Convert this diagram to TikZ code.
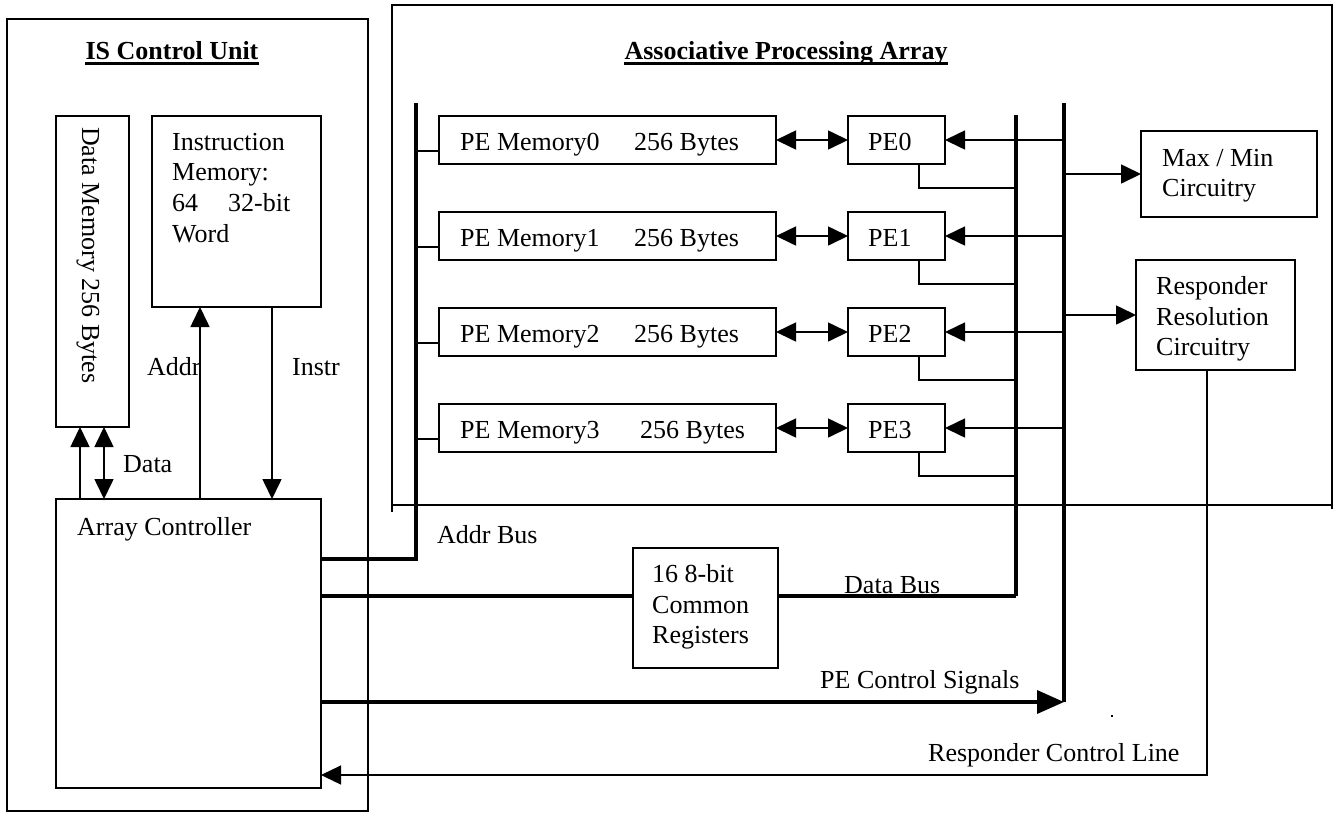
\documentclass[tikz,border=0pt]{standalone}
\usepackage{fontspec}
\setmainfont{Liberation Serif}
\usetikzlibrary{arrows.meta}
\begin{document}
\begin{tikzpicture}[x=1pt,y=-1pt,
  box/.style={draw,line width=1.3pt,inner sep=0pt,outer sep=0pt,anchor=north west},
  outerbox/.style={box,line width=2pt},
  lbl/.style={inner sep=0pt,anchor=base west,font=\fontsize{26}{30}\selectfont},
  ttl/.style={inner sep=0pt,anchor=base,font=\fontsize{26}{30}\selectfont\bfseries},
  thinline/.style={line width=1.4pt},
  bus/.style={line width=3.6pt},
  arr/.style={line width=1.6pt,-{Triangle[length=20pt,width=19pt]}},
  darr/.style={line width=1.6pt,{Triangle[length=20pt,width=19pt]}-{Triangle[length=20pt,width=19pt]}},
  bigarr/.style={line width=3.6pt,-{Triangle[length=27pt,width=23pt]}}
]
\useasboundingbox (0,0) rectangle (1337,812);
\fill[white] (0,0) rectangle (1337,812);

% outer frames
\node[outerbox,minimum width=361pt,minimum height=792pt] (isu) at (7,19) {};
\node[outerbox,minimum width=940pt,minimum height=500pt] (apa) at (392,5) {};
\draw[line width=1.3pt] (apa.south west) -- ++(0,7);
\draw[line width=1.3pt] (apa.south east) -- ++(0,4);

% titles
\node[ttl] (istitle) at (172,59) {IS Control Unit};
\draw[line width=2.6pt] ([yshift=-4.5pt]istitle.base west) -- ([yshift=-4.5pt]istitle.base east);
\node[ttl] (apatitle) at (786,59) {Associative Processing Array};
\draw[line width=2.6pt] ([yshift=-4.5pt]apatitle.base west) -- ([yshift=-4.5pt]apatitle.base east);

% data memory
\node[box,minimum width=73pt,minimum height=311pt] (dm) at (56,116) {};
\node[lbl,rotate=-90] (dmt) at (82,127) {Data Memory 256 Bytes};

% instruction memory
\node[box,minimum width=169pt,minimum height=191pt] (im) at (152,116) {};
\node[lbl] (im1) at (172,150) {Instruction};
\node[lbl] (im2) at (172,180) {Memory:};
\node[lbl] (im3) at (172,211) {64};
\node[lbl] (im3b) at (228,211) {32-bit};
\node[lbl] (im4) at (172,242) {Word};

% array controller
\node[box,minimum width=265pt,minimum height=289pt] (ac) at (56,499) {};
\node[lbl] (act) at (77,535) {Array Controller};

% data / addr / instr connections
\draw[arr] ([xshift=24pt]ac.north west) -- ([xshift=24pt]dm.south west);
\draw[darr] ([xshift=48pt]ac.north west) -- ([xshift=48pt]dm.south west);
\node[lbl] (datal) at (123,472) {Data};
\draw[arr] ([xshift=144pt]ac.north west) -- ([xshift=48pt]im.south west);
\draw[arr] ([xshift=120pt]im.south west) -- ([xshift=216pt]ac.north west);
\node[lbl] (addrl) at (147,375) {Addr};
\node[lbl] (instrl) at (292,375) {Instr};

% bus coordinates
\coordinate (abtop) at (416,103);
\coordinate (abbot) at (416,559);
\coordinate (dbtop) at (1016,115);
\coordinate (dbbot) at (1016,596);
\coordinate (cbtop) at (1064,103);
\coordinate (cbbot) at (1064,702);

% PE rows
\foreach \i/\bx in {0/634,1/634,2/634,3/640}{
  \node[box,minimum width=337pt,minimum height=48pt] (pm\i) at (439,{116+96*\i}) {};
  \node[lbl] (pmt\i) at (460,{150+96*\i}) {PE Memory\i};
  \node[lbl] (pmb\i) at (\bx,{150+96*\i}) {256 Bytes};
  \node[box,minimum width=97pt,minimum height=48pt] (pe\i) at (848,{116+96*\i}) {};
  \node[lbl] (pet\i) at (868,{150+96*\i}) {PE\i};
  \coordinate (ab\i) at (416,{151+96*\i});
  \coordinate (cb\i) at (1064,{140+96*\i});
  \coordinate (db\i) at (1016,{188+96*\i});
  \draw[line width=1.2pt] (ab\i) -- (ab\i -| pm\i.west);
  \draw[darr] (pm\i.east) -- (pe\i.west);
  \draw[arr] (cb\i) -- (pe\i.east);
  \draw[line width=2pt] ([xshift=-26pt]pe\i.south east) |- (db\i);
}

% buses
\draw[bus] (ac.east |- abbot) -- (abbot) -- (abtop);
\draw[bus] (dbtop) -- (dbbot);
\draw[bus] (cbtop) -- (cbbot);
\node[lbl] (addrbus) at (437,543) {Addr Bus};

% max/min
\node[box,minimum width=176pt,minimum height=86pt] (mm) at (1141,131) {};
\node[lbl] (mm1) at (1162,166) {Max / Min};
\node[lbl] (mm2) at (1162,196) {Circuitry};
\draw[arr] (cbtop |- mm.west) -- (mm.west);

% responder resolution
\node[box,minimum width=159pt,minimum height=110pt] (rr) at (1136,260) {};
\node[lbl] (rr1) at (1156,294) {Responder};
\node[lbl] (rr2) at (1156,325) {Resolution};
\node[lbl] (rr3) at (1156,355) {Circuitry};
\draw[arr] (cbtop |- rr.west) -- (rr.west);

% common registers
\node[box,minimum width=145pt,minimum height=120pt] (reg) at (633,548) {};
\node[lbl] (reg1) at (652,582) {16 8-bit};
\node[lbl] (reg2) at (652,613) {Common};
\node[lbl] (reg3) at (652,643) {Registers};
\draw[bus] (ac.east |- dbbot) -- (reg.west |- dbbot);
\draw[bus] (reg.east |- dbbot) -- (dbbot);
\node[lbl] (databus) at (844,593) {Data Bus};

% PE control signals
\draw[bigarr] (ac.east |- cbbot) -- (cbbot);
\node[lbl] (pecs) at (820,688) {PE Control Signals};

% responder control line
\coordinate (rcl) at (1207,775);
\draw[line width=1.3pt,-{Triangle[length=20pt,width=19pt]}] ([xshift=71pt]rr.south west) |- (ac.east |- rcl);
\node[lbl] (rcll) at (928,761) {Responder Control Line};

% speck
\fill (1111,715) rectangle (1113,717);
\end{tikzpicture}
\end{document}
